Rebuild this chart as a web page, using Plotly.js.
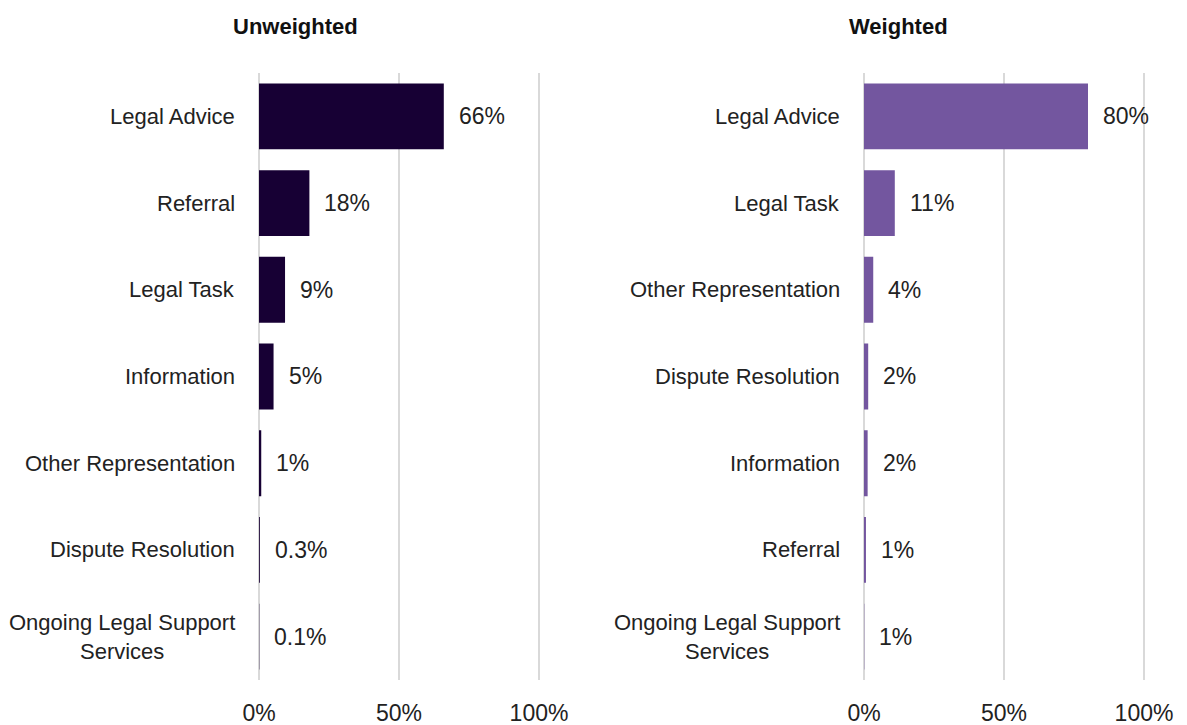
<!DOCTYPE html>
<html>
<head>
<meta charset="utf-8">
<script src="https://cdn.plot.ly/plotly-3.0.1.min.js"></script>
<style>html,body{margin:0;padding:0;background:#fff;}#chart{width:1187px;height:725px;}</style>
</head>
<body>
<div id="chart"></div>
<script>
// Unweighted
const unwCategories = ["Legal Advice", "Referral", "Legal Task", "Information", "Other Representation", "Dispute Resolution", "Ongoing Legal Support<br>Services"];
const unwValues = [66, 18, 9.3, 5.2, 0.8, 0.3, 0.1];
const unwLabels = ["66%", "18%", "9%", "5%", "1%", "0.3%", "0.1%"];
// Weighted
const wCategories = ["Legal Advice", "Legal Task", "Other Representation", "Dispute Resolution", "Information", "Referral", "Ongoing Legal Support<br>Services"];
const wValues = [80, 11, 3.3, 1.5, 1.3, 0.7, 0.1];
const wLabels = ["80%", "11%", "4%", "2%", "2%", "1%", "1%"];
const xTicks = [0, 50, 100];
const xTickText = ["0%", "50%", "100%"];

const FONT = "Liberation Sans, Arial, sans-serif";
const colL = "#170034", colR = "#73569f";

const traces = [
  {type: "bar", orientation: "h", x: unwValues, y: unwCategories, xaxis: "x", yaxis: "y",
   marker: {color: colL}, width: 0.76, hoverinfo: "skip"},
  {type: "bar", orientation: "h", x: wValues, y: wCategories, xaxis: "x2", yaxis: "y2",
   marker: {color: colR}, width: 0.76, hoverinfo: "skip"}
];

const PAD = 0.5; // percent padding so edge gridlines show
function xa(x0, x1) {
  const pxPer = (x1 - x0) / 100;
  const d0 = (x0 - PAD * pxPer) / 1187, d1 = (x1 + PAD * pxPer) / 1187;
  return {domain: [d0, d1], range: [-PAD, 100 + PAD], tickvals: xTicks, ticktext: xTickText,
    showgrid: true, gridcolor: "#d9d9d9", gridwidth: 2, zeroline: false,
    showline: false, ticks: "outside", ticklen: 12, tickcolor: "rgba(0,0,0,0)",
    tickfont: {family: FONT, size: 23, color: "#222"}, fixedrange: true};
}
function ya(cats, anchor) {
  return {domain: [0.0621, 0.8993], anchor: anchor, type: "category", categoryarray: cats,
    categoryorder: "array", autorange: "reversed", showticklabels: false, showgrid: false,
    zeroline: false, showline: false, fixedrange: true};
}

const annotations = [];
function addCats(cats, xref, yref) {
  cats.forEach(c => annotations.push({text: c, x: 0, xref: xref, y: c, yref: yref,
    xanchor: "right", yanchor: "middle", xshift: -22, align: "center", showarrow: false,
    font: {family: FONT, size: 22, color: "#222"}}));
}
function addVals(cats, vals, labs, xref, yref) {
  cats.forEach((c, i) => annotations.push({text: labs[i], x: vals[i], xref: xref, y: c, yref: yref,
    xanchor: "left", yanchor: "middle", xshift: 13, yshift: 0, showarrow: false,
    font: {family: FONT, size: 23, color: "#222"}}));
}
addCats(unwCategories, "x", "y");
addCats(wCategories, "x2", "y2");
addVals(unwCategories, unwValues, unwLabels, "x", "y");
addVals(wCategories, wValues, wLabels, "x2", "y2");
annotations.push({text: "<b>Unweighted</b>", x: 295 / 1187, xref: "paper", y: 1 - 27 / 725, yref: "paper",
  xanchor: "center", yanchor: "middle", showarrow: false, font: {family: FONT, size: 22, color: "#111"}});
annotations.push({text: "<b>Weighted</b>", x: 898 / 1187, xref: "paper", y: 1 - 27 / 725, yref: "paper",
  xanchor: "center", yanchor: "middle", showarrow: false, font: {family: FONT, size: 22, color: "#111"}});

const layout = {
  width: 1187, height: 725, margin: {l: 0, r: 0, t: 0, b: 0},
  paper_bgcolor: "#fff", plot_bgcolor: "#fff", showlegend: false,
  xaxis: Object.assign(xa(259, 539), {anchor: "y"}),
  xaxis2: Object.assign(xa(864, 1144), {anchor: "y2"}),
  yaxis: ya(unwCategories, "x"),
  yaxis2: ya(wCategories, "x2"),
  annotations: annotations,
  bargap: 0.24
};
Plotly.newPlot("chart", traces, layout, {displayModeBar: false, staticPlot: true});
</script>
</body>
</html>
